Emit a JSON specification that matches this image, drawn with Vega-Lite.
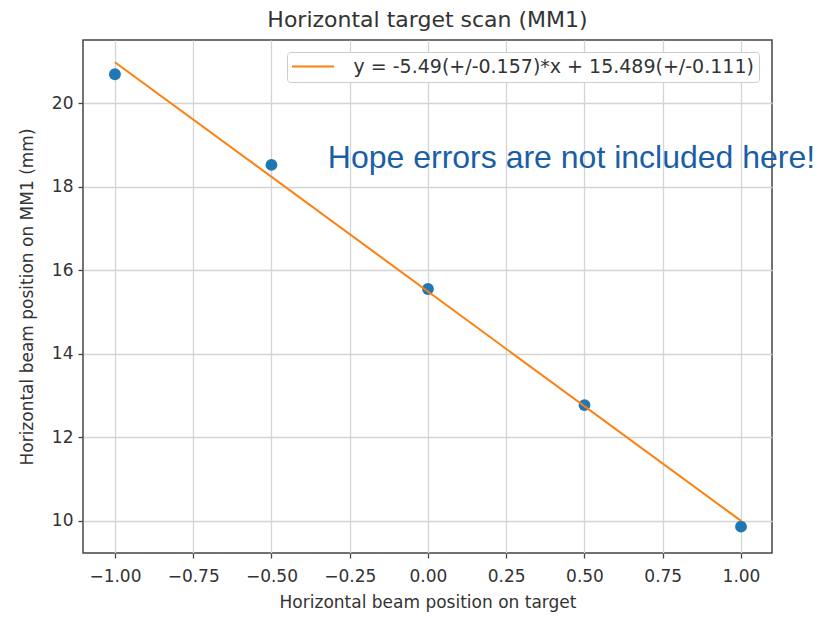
{
  "$schema": "https://vega.github.io/schema/vega-lite/v6.json",
  "autosize": "none",
  "width": 689,
  "height": 513,
  "padding": {"left": 83, "top": 40, "right": 46, "bottom": 64},
  "background": "white",
  "title": {"text": "Horizontal target scan (MM1)", "font": "DejaVu Sans", "fontSize": 22, "fontWeight": "normal", "color": "#333333", "offset": 8},
  "config": {
    "view": {"stroke": "#444444", "strokeWidth": 1.5},
    "axis": {"labelFont": "DejaVu Sans", "titleFont": "DejaVu Sans", "labelFontSize": 17, "titleFontSize": 17, "titleFontWeight": "normal", "labelColor": "#333333", "titleColor": "#333333", "gridColor": "#d4d4d4", "gridWidth": 1.3, "tickColor": "#444444", "tickSize": 5, "tickWidth": 1.3, "domain": false, "labelPadding": 5}
  },
  "layer": [
    {
      "data": {"values": [
        {"x": -1.0, "y": 20.69},
        {"x": -0.5, "y": 18.52},
        {"x": 0.0, "y": 15.55},
        {"x": 0.5, "y": 12.77},
        {"x": 1.0, "y": 9.86}
      ]},
      "mark": {"type": "point", "filled": true, "size": 140, "color": "#1f77b4", "opacity": 1},
      "encoding": {
        "x": {"field": "x", "type": "quantitative", "scale": {"domain": [-1.102, 1.099], "nice": false, "zero": false},
          "axis": {"values": [-1, -0.75, -0.5, -0.25, 0, 0.25, 0.5, 0.75, 1], "format": ".2f", "title": "Horizontal beam position on target", "labelPadding": 10, "titlePadding": 10}},
        "y": {"field": "y", "type": "quantitative", "scale": {"domain": [9.23, 21.51], "nice": false, "zero": false},
          "axis": {"values": [10, 12, 14, 16, 18, 20], "title": "Horizontal beam position on MM1 (mm)", "titlePadding": 15}}
      }
    },
    {
      "data": {"values": [
        {"x": -1.0, "y": 20.979, "label": "y = -5.49(+/-0.157)*x + 15.489(+/-0.111)"},
        {"x": 1.0, "y": 9.999, "label": "y = -5.49(+/-0.157)*x + 15.489(+/-0.111)"}
      ]},
      "mark": {"type": "line", "strokeWidth": 2},
      "encoding": {
        "x": {"field": "x", "type": "quantitative"},
        "y": {"field": "y", "type": "quantitative"},
        "color": {"field": "label", "type": "nominal", "scale": {"range": ["#ff7f0e"]},
          "legend": {"title": null, "orient": "none", "legendX": 204, "legendY": 12, "symbolType": "M-2.625,0H2.625", "symbolSize": 256, "symbolOffset": 11.5, "symbolStrokeWidth": 2, "labelFont": "DejaVu Sans", "labelFontSize": 19, "labelLimit": 0, "labelColor": "#333333", "strokeColor": "#cccccc", "fillColor": "white", "padding": 5, "cornerRadius": 3, "labelOffset": 31}}
      }
    },
    {
      "data": {"values": [{"x": -0.32, "y": 18.68, "t": "Hope errors are not included here!"}]},
      "mark": {"type": "text", "align": "left", "baseline": "middle", "font": "Liberation Sans", "fontSize": 32, "color": "#1a5fa6", "clip": false},
      "encoding": {
        "x": {"field": "x", "type": "quantitative"},
        "y": {"field": "y", "type": "quantitative"},
        "text": {"field": "t"}
      }
    }
  ]
}
